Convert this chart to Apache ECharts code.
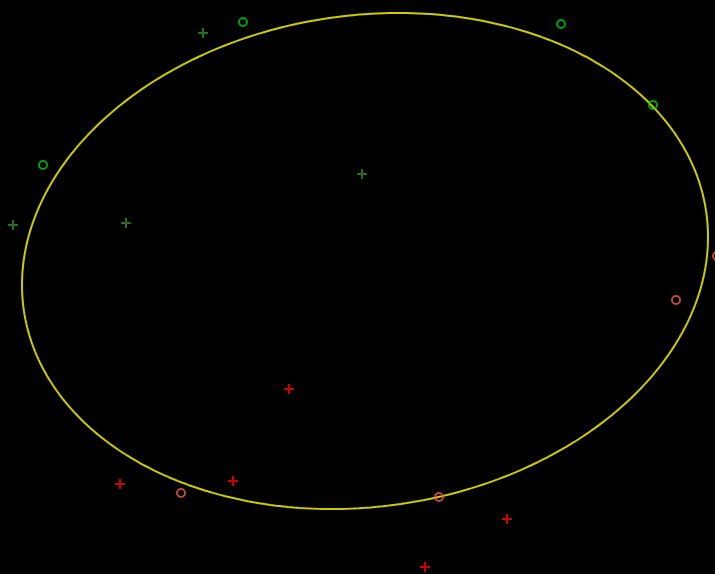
<!DOCTYPE html>
<html>
<head>
<meta charset="utf-8">
<script src="https://cdn.jsdelivr.net/npm/echarts@6/dist/echarts.min.js"></script>
<style>
html,body{margin:0;padding:0;background:#000;}
#chart{width:715px;height:574px;}
</style>
</head>
<body>
<div id="chart"></div>
<script>
// Data (x, y) in plot units
const greenPlus = [[-1.62, 2.26], [-3.52, 0.34], [-2.39, 0.36], [-0.03, 0.85]];
const greenCircle = [[-1.22, 2.37], [-3.22, 0.94], [1.96, 2.35], [2.88, 1.54]];
const redPlus = [[-0.76, -1.30], [-2.45, -2.25], [-1.32, -2.22], [1.42, -2.60], [0.60, -3.08]];
const salmonCircle = [[-1.84, -2.34], [0.74, -2.38], [3.11, -0.41], [3.52, 0.03]];

// Ellipse parameters: center, x half-extent, y half-extent, phase (degrees)
const ellipseCenter = [0, -0.02];
const ellipseHalfX = 3.43;
const ellipseHalfY = 2.48;
const ellipsePhaseDeg = 95.55;

const ellipsePts = [];
const N = 360;
const ph = ellipsePhaseDeg * Math.PI / 180;
for (let i = 0; i <= N; i++) {
  const t = 2 * Math.PI * i / N;
  ellipsePts.push([
    ellipseCenter[0] + ellipseHalfX * Math.cos(t),
    ellipseCenter[1] - ellipseHalfY * Math.cos(t - ph)
  ]);
}

const plusPath = 'path://M4,0H6V4H10V6H6V10H4V6H0V4H4Z';

const chart = echarts.init(document.getElementById('chart'));
chart.setOption({
  backgroundColor: '#000',
  animation: false,
  grid: {left: 0, right: 0, top: 0, bottom: 0},
  xAxis: {type: 'value', min: -3.65, max: 3.50, show: false, splitLine: {show: false}},
  yAxis: {type: 'value', min: -3.15, max: 2.59, show: false, splitLine: {show: false}},
  series: [
    {
      type: 'line', data: ellipsePts, showSymbol: false, smooth: false, clip: false,
      lineStyle: {color: '#cccc00', width: 2}, z: 1
    },
    {
      type: 'scatter', data: greenPlus, symbol: plusPath, symbolSize: 10, clip: false,
      itemStyle: {color: '#2e8b2e'}, z: 2
    },
    {
      type: 'scatter', data: greenCircle, symbol: 'circle', symbolSize: 8, clip: false,
      itemStyle: {color: 'transparent', borderColor: '#00cc00', borderWidth: 2}, z: 2
    },
    {
      type: 'scatter', data: redPlus, symbol: plusPath, symbolSize: 10, clip: false,
      itemStyle: {color: '#ff0000'}, z: 2
    },
    {
      type: 'scatter', data: salmonCircle, symbol: 'circle', symbolSize: 8, clip: false,
      itemStyle: {color: 'transparent', borderColor: '#e8604c', borderWidth: 2}, z: 2
    }
  ]
});
</script>
</body>
</html>
